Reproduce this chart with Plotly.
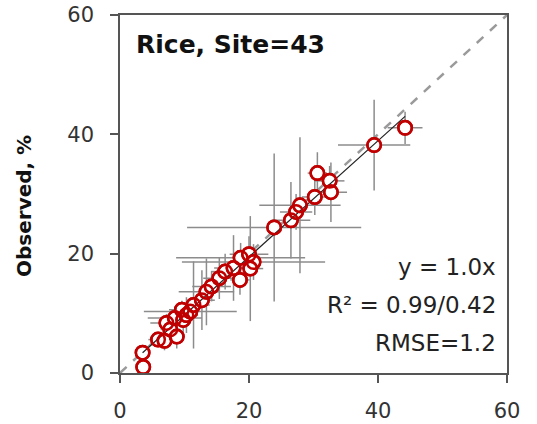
import plotly.graph_objects as go
import numpy as np

# Simulated (x) vs observed (y) values, with their error bar half-widths
simulated = [3.6, 3.5, 5.9, 6.9, 7.2, 7.8, 8.8, 8.5, 9.6, 9.8, 10.3, 10.9, 11.4, 12.7,
             13.4, 14.2, 15.4, 16.3, 17.6, 18.6, 18.7, 20.0, 20.7, 20.2, 23.9, 26.5,
             27.3, 27.9, 30.2, 30.6, 32.5, 32.7, 39.4, 44.2]
observed = [1.0, 3.4, 5.6, 5.4, 8.4, 7.3, 6.1, 9.2, 10.6, 8.9, 9.7, 10.3, 11.4, 12.2,
            13.6, 14.5, 15.9, 17.0, 17.6, 15.6, 19.3, 19.9, 18.6, 17.5, 24.4, 25.6,
            27.0, 28.1, 29.5, 33.5, 32.2, 30.3, 38.2, 41.1]
sim_err = [0, 0, 1.5, 1.0, 2.5, 1.5, 1.2, 4.2, 2.0, 1.0, 1.8, 7.2, 2.5, 2.0,
           4.3, 3.0, 2.5, 2.2, 3.0, 1.5, 10.0, 3.0, 11.1, 2.0, 13.5, 3.0,
           2.5, 6.3, 2.0, 1.5, 2.3, 2.5, 5.6, 2.7]
obs_err = [0, 0, 1.0, 1.6, 1.5, 2.2, 2.0, 1.8, 1.5, 2.5, 3.0, 2.0, 7.3, 5.0,
           5.6, 2.5, 3.5, 3.0, 5.5, 2.5, 2.5, 3.0, 3.0, 8.8, 12.4, 6.4,
           3.0, 11.4, 3.0, 3.5, 2.5, 5.0, 7.6, 2.7]

axis_ticks = [0, 20, 40, 60]
title_text = "Rice, Site=43"
y_title = "Observed, %"
stats_lines = ["y = 1.0x", "R² = 0.99/0.42", "RMSE=1.2"]

FONT = "DejaVu Sans, sans-serif"

x = np.array(simulated)
y = np.array(observed)
slope = float((x * y).sum() / (x * x).sum())

fig = go.Figure()

# 1:1 line
fig.add_trace(go.Scatter(x=[0, 60], y=[0, 60], mode="lines",
                         line=dict(color="#9a9a9a", width=2.5, dash="dash"),
                         hoverinfo="skip", showlegend=False))

# points with error bars
fig.add_trace(go.Scatter(
    x=simulated, y=observed, mode="markers",
    marker=dict(symbol="circle", size=13.5, color="white",
                line=dict(color="#C00000", width=2.5)),
    error_x=dict(type="data", array=sim_err, color="#8c8c8c", thickness=1.5, width=0),
    error_y=dict(type="data", array=obs_err, color="#8c8c8c", thickness=1.5, width=0),
    showlegend=False))

# fitted line through origin
xr = [min(simulated), max(simulated)]
fig.add_trace(go.Scatter(x=xr, y=[slope * v for v in xr], mode="lines",
                         line=dict(color="#222222", width=1.2),
                         hoverinfo="skip", showlegend=False))

# re-draw marker outlines on top of the fit line
fig.add_trace(go.Scatter(
    x=simulated, y=observed, mode="markers",
    marker=dict(symbol="circle", size=13.5, color="rgba(255,255,255,0)",
                line=dict(color="#C00000", width=2.5)),
    showlegend=False, hoverinfo="skip"))

axis_common = dict(range=[0, 60], tickvals=axis_ticks, showgrid=False, zeroline=False,
                   showline=True, linecolor="#555555", linewidth=1.5, mirror=True,
                   ticks="outside", ticklen=8, tickwidth=1.5, tickcolor="#555555",
                   automargin=False,
                   tickfont=dict(family=FONT, size=21, color="#333333"))

fig.update_layout(
    width=537, height=424,
    margin=dict(l=120, r=30, t=15, b=51, autoexpand=False),
    paper_bgcolor="white", plot_bgcolor="white",
    xaxis=dict(**axis_common, ticklabelstandoff=10),
    yaxis=dict(**axis_common, ticklabelstandoff=12),
    font=dict(family=FONT),
)

# y axis title placed as an annotation
fig.add_annotation(xref="paper", yref="paper", x=-0.248, y=(373 - 206) / 358,
                   xanchor="center", yanchor="middle", textangle=-90,
                   text="<b>" + y_title + "</b>", showarrow=False,
                   font=dict(family=FONT, size=20, color="#111111"))

fig.add_annotation(xref="paper", yref="paper", x=0.036, y=0.965, xanchor="left", yanchor="top",
                   text="<b>" + title_text + "</b>", showarrow=False,
                   font=dict(family=FONT, size=25, color="#111111"))

stat_y = [0.296, 0.190, 0.084]
for line, yy in zip(stats_lines, stat_y):
    fig.add_annotation(xref="paper", yref="paper", x=0.976, y=yy,
                       xanchor="right", yanchor="middle", text=line, showarrow=False,
                       font=dict(family=FONT, size=23, color="#222222"))

fig.write_html("out.html")
